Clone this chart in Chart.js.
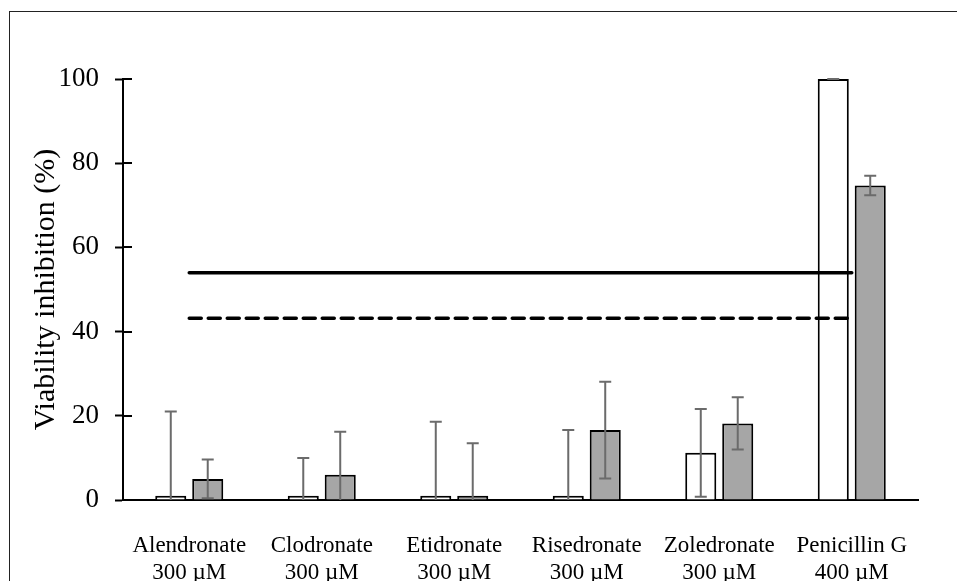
<!DOCTYPE html>
<html>
<head>
<meta charset="utf-8">
<script src="https://cdn.jsdelivr.net/npm/chart.js@4/dist/chart.umd.min.js"></script>
<style>
body{margin:0;background:#fff;overflow:hidden;width:957px;height:581px;position:relative}
#frame{position:absolute;left:9px;top:11px;width:1100px;height:800px;border:1.5px solid #222}
#c{position:absolute;left:0;top:0}
</style>
</head>
<body>
<div id="frame"></div>
<canvas id="c" width="957" height="581"></canvas>
<script>
// données
const labels = [
["Alendronate","300 µM"],
["Clodronate","300 µM"],
["Etidronate","300 µM"],
["Risedronate","300 µM"],
["Zoledronate","300 µM"],
["Penicillin G","400 µM"]
]
const whiteVals = [1,1,1,1,11.2,100]
const whiteErr = [20,9,17.6,15.6,10.4,0]
const grayVals = [5,6,1,16.6,18.2,74.7]
const grayErr = [4.6,10.2,12.5,11.5,6.2,2.3]
const solidLevel = 54
const dashedLevel = 43.2
const yTicks = [0,20,40,60,80,100]

const FONT = "'Liberation Serif', 'Times New Roman', serif"

// barres d'erreur + petits traits intérieurs de l'axe Y
const extras = {
id:"extras",
afterDatasetsDraw(chart){
const ctx = chart.ctx
const y = chart.scales.y
const area = chart.chartArea
ctx.save()
ctx.strokeStyle = "#000"
ctx.lineWidth = 2
yTicks.forEach(t=>{
let py = Math.round(y.getPixelForValue(t))
ctx.beginPath()
ctx.moveTo(area.left, py)
ctx.lineTo(area.left+9, py)
ctx.stroke()
})
const errs = [whiteErr, grayErr]
ctx.strokeStyle = "#6b6b6b"
ctx.lineWidth = 2
;[0,1].forEach(di=>{
const meta = chart.getDatasetMeta(di)
const vals = chart.data.datasets[di].data
meta.data.forEach((bar,i)=>{
let x = bar.x
let hi = vals[i] + errs[di][i]
let lo = vals[i] - errs[di][i]
let yHi = y.getPixelForValue(hi)
let yLo = y.getPixelForValue(Math.max(lo,0))
ctx.beginPath()
ctx.moveTo(x, yHi)
ctx.lineTo(x, yLo)
ctx.moveTo(x-6, yHi)
ctx.lineTo(x+6, yHi)
if(lo >= 0){
ctx.moveTo(x-6, yLo)
ctx.lineTo(x+6, yLo)
}
ctx.stroke()
})
})
ctx.restore()
}
}

new Chart(document.getElementById("c"),{
data:{
labels:labels,
datasets:[
{
type:"bar",
data:whiteVals,
backgroundColor:"#ffffff",
borderColor:"#000",
borderWidth:2,
order:2
},
{
type:"bar",
data:grayVals,
backgroundColor:"#a6a6a6",
borderColor:"#000",
borderWidth:2,
order:2
},
{
type:"line",
data:labels.map(()=>solidLevel),
borderColor:"#000",
borderWidth:3.5,
borderCapStyle:"round",
pointRadius:0,
order:0
},
{
type:"line",
data:labels.map(()=>dashedLevel),
borderColor:"#000",
borderWidth:3.5,
borderDash:[12,7],
borderCapStyle:"round",
pointRadius:0,
order:0
}
]
},
options:{
responsive:false,
animation:false,
events:[],
layout:{padding:{left:0,top:79,right:39,bottom:0}},
datasets:{bar:{categoryPercentage:0.558,barPercentage:0.84}},
plugins:{legend:{display:false},tooltip:{enabled:false}},
scales:{
x:{
type:"category",
offset:true,
grid:{display:false,drawTicks:false},
border:{color:"#000",width:2},
ticks:{color:"#000",font:{family:FONT,size:23},padding:32,maxRotation:0,autoSkip:false},
afterFit(s){s.height=81}
},
y:{
min:0,
max:100,
afterBuildTicks(s){s.ticks = yTicks.map(v=>({value:v}))},
grid:{drawOnChartArea:false,drawTicks:true,tickLength:8,tickColor:"#000",tickWidth:2},
border:{color:"#000",width:2},
ticks:{color:"#000",font:{family:FONT,size:27},padding:16},
title:{display:true,text:"Viability inhibition (%)",color:"#000",font:{family:FONT,size:30},padding:{top:28,bottom:0}},
afterFit(s){s.width=123}
}
}
},
plugins:[extras]
})
</script>
</body>
</html>
